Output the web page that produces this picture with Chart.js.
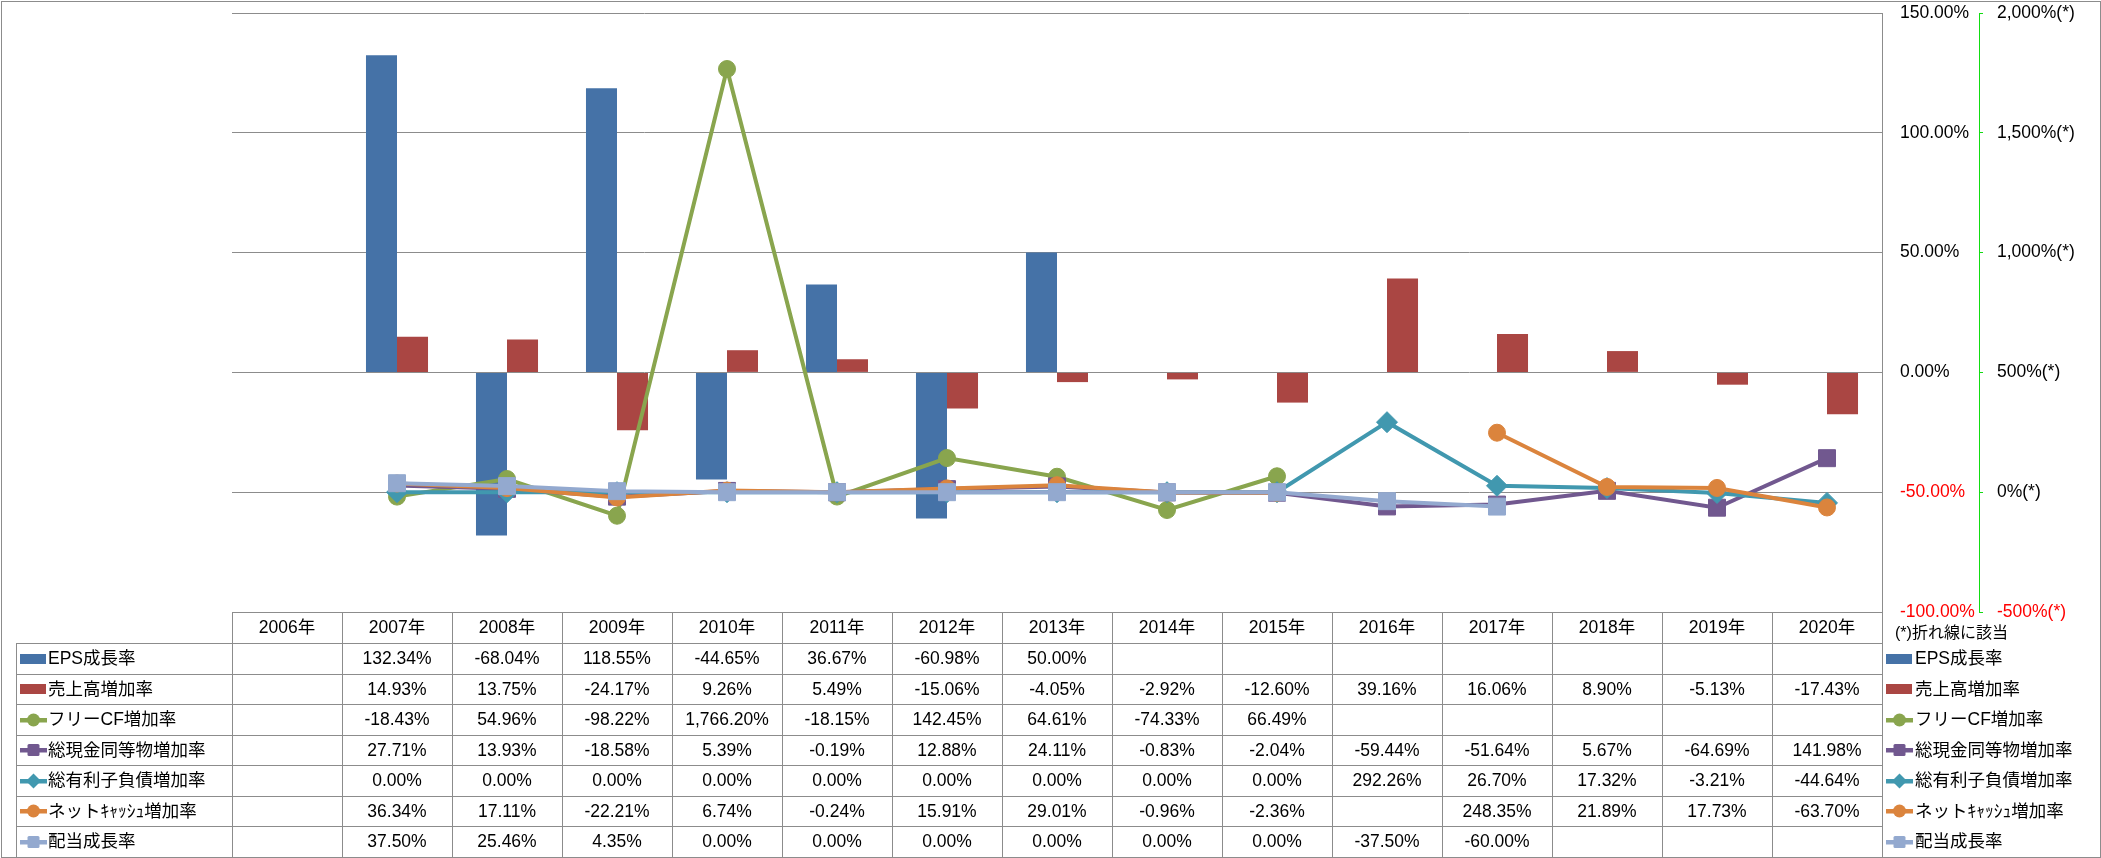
<!DOCTYPE html>
<html><head><meta charset="utf-8">
<script src="https://cdn.jsdelivr.net/npm/chart.js@4.4.1/dist/chart.umd.min.js"></script>
<style>
html,body{margin:0;padding:0;background:#fff;}
#wrap{position:relative;width:2101px;height:858px;overflow:hidden;font-family:'Liberation Sans','Noto Sans CJK JP',sans-serif;font-size:17.5px;color:#000;}
#cw{position:absolute;left:0;top:0;width:2101px;height:858px;}
.ln{position:absolute;background:#8c8c8c;}
.tx{position:absolute;white-space:nowrap;}
.sw{position:absolute;}
</style></head><body>
<div id="wrap"><div id="cw"><canvas id="cv"></canvas></div><div id="tbl"></div></div>
<script>
// ---- data ----
const years = ['2006年','2007年','2008年','2009年','2010年','2011年','2012年','2013年','2014年','2015年','2016年','2017年','2018年','2019年','2020年'];
const epsGrowth   = [null,132.34,-68.04,118.55,-44.65,36.67,-60.98,50.00,null,null,null,null,null,null,null];
const salesGrowth = [null,14.93,13.75,-24.17,9.26,5.49,-15.06,-4.05,-2.92,-12.60,39.16,16.06,8.90,-5.13,-17.43];
const freeCfGrowth= [null,-18.43,54.96,-98.22,1766.20,-18.15,142.45,64.61,-74.33,66.49,null,null,null,null,null];
const cashGrowth  = [null,27.71,13.93,-18.58,5.39,-0.19,12.88,24.11,-0.83,-2.04,-59.44,-51.64,5.67,-64.69,141.98];
const debtGrowth  = [null,0,0,0,0,0,0,0,0,0,292.26,26.70,17.32,-3.21,-44.64];
const netCashGrowth=[null,36.34,17.11,-22.21,6.74,-0.24,15.91,29.01,-0.96,-2.36,null,248.35,21.89,17.73,-63.70];
const dividendGrowth=[null,37.50,25.46,4.35,0,0,0,0,0,0,-37.50,-60.00,null,null,null];
const barAxisTicks  = [-100,-50,0,50,100,150];
const lineAxisTicks = [-500,0,500,1000,1500,2000];
const seriesNames = ['EPS成長率','売上高増加率','フリーCF増加率','総現金同等物増加率','総有利子負債増加率','ネットｷｬｯｼｭ増加率','配当成長率'];
const noteText = '(*)折れ線に該当';

// ---- styles ----
const C = {eps:'#4572A7', sales:'#AA4643', fcf:'#89A54E', cash:'#71588F', debt:'#4198AF', net:'#DB843D', div:'#93A9CF'};
const GRID = '#8c8c8c';
const FONT = "'Liberation Sans','Noto Sans CJK JP',sans-serif";

function fmtPct(v){
  if (v === null || v === undefined) return '';
  const neg = v < 0; let s = Math.abs(v).toFixed(2);
  let [i, d] = s.split('.');
  i = i.replace(/\B(?=(\d{3})+(?!\d))/g, ',');
  return (neg ? '-' : '') + i + '.' + d + '%';
}
function fmtInt(v){
  const neg = v < 0; let i = String(Math.abs(v)).replace(/\B(?=(\d{3})+(?!\d))/g, ',');
  return (neg ? '-' : '') + i;
}

Chart.defaults.font.family = FONT;
Chart.defaults.font.size = 17.5;
Chart.defaults.color = '#000';

function lineDs(label, data, color, style, radius, order){
  return {type:'line', label, data, borderColor:color, backgroundColor:color, borderWidth:4,
    pointStyle:style, pointRadius:radius, pointBorderWidth:1, pointBorderColor:color, pointBackgroundColor:color,
    yAxisID:'y2', order, tension:0, spanGaps:false};
}
function fitY(width){
  return (s) => { s.width = width; s.paddingTop = 0; s.paddingBottom = 0; };
}

new Chart(document.getElementById('cv'), {
  type:'bar',
  data:{
    labels: years,
    datasets:[
      {type:'bar', label:seriesNames[0], data:epsGrowth, backgroundColor:C.eps, yAxisID:'y', order:9, barPercentage:1, categoryPercentage:0.564},
      {type:'bar', label:seriesNames[1], data:salesGrowth, backgroundColor:C.sales, yAxisID:'y', order:10, barPercentage:1, categoryPercentage:0.564},
      lineDs(seriesNames[2], freeCfGrowth, C.fcf, 'circle', 8.5, 5),
      lineDs(seriesNames[3], cashGrowth, C.cash, 'rect', 12, 4),
      lineDs(seriesNames[4], debtGrowth, C.debt, 'rectRot', 10.5, 3),
      lineDs(seriesNames[5], netCashGrowth, C.net, 'circle', 8.5, 2),
      lineDs(seriesNames[6], dividendGrowth, C.div, 'rect', 12, 1)
    ]
  },
  options:{
    responsive:true, maintainAspectRatio:false, animation:false, events:[],
    layout:{padding:{left:232, top:13, right:0, bottom:246}},
    plugins:{legend:{display:false}, tooltip:{enabled:false}},
    scales:{
      x:{display:false, offset:true},
      y:{position:'right', min:-100, max:150,
        afterBuildTicks:(s)=>{ s.ticks = barAxisTicks.map(v=>({value:v})); },
        afterFit: fitY(97),
        grid:{color:GRID, lineWidth:1, drawTicks:false},
        border:{color:GRID, width:1},
        ticks:{padding:18, color:(c)=> c.tick.value < 0 ? '#ff0000' : '#000', callback:(v)=> Number(v).toFixed(2) + '%'}
      },
      y2:{position:'right', min:-500, max:2000,
        afterBuildTicks:(s)=>{ s.ticks = lineAxisTicks.map(v=>({value:v})); },
        afterFit: fitY(122),
        grid:{drawOnChartArea:false, drawTicks:true, tickLength:4, color:'#11dd11', lineWidth:1},
        border:{color:'#11dd11', width:1, dash:[4,3]},
        ticks:{padding:14, color:(c)=> c.tick.value < 0 ? '#ff0000' : '#000', callback:(v)=> fmtInt(v) + '%(*)'}
      }
    }
  }
});

// ---- data table (HTML overlay) ----
const tbl = document.getElementById('tbl');
const colLeft = 232, colW = 110, nCols = years.length, labelLeft = 16;
const tableRight = colLeft + colW * nCols;
const rowY = [612, 643];
for (let k = 1; k <= 7; k++) rowY.push(Math.round(643 + k * 214 / 7));

function el(cls, css, html){ const d = document.createElement('div'); d.className = cls; d.style.cssText = css; if (html !== undefined) d.innerHTML = html; tbl.appendChild(d); return d; }
function hline(x1, x2, y){ el('ln', `left:${x1}px;top:${y}px;width:${x2-x1+1}px;height:1px;`); }
function vline(x, y1, y2){ el('ln', `left:${x}px;top:${y1}px;width:1px;height:${y2-y1+1}px;`); }

// outer frame
el('', `position:absolute;left:1px;top:1px;width:2100px;height:857px;box-sizing:border-box;border:1px solid ${GRID};`);

hline(colLeft, tableRight, rowY[0]);
for (let r = 1; r < rowY.length; r++) hline(labelLeft, tableRight, rowY[r]);
vline(labelLeft, rowY[1], rowY[8]);
for (let i = 0; i <= nCols; i++) vline(colLeft + i * colW, rowY[0], rowY[8]);

// header
years.forEach((y, i) => {
  const h = rowY[1] - rowY[0];
  el('tx', `left:${colLeft+i*colW}px;top:${rowY[0]}px;width:${colW}px;height:${h}px;line-height:${h}px;text-align:center;`, y);
});
el('tx', `left:1895px;top:${rowY[0]+6}px;height:30px;line-height:30px;font-size:16px;`, noteText);

const tableRows = [
  {data:epsGrowth, color:C.eps, kind:'bar'},
  {data:salesGrowth, color:C.sales, kind:'bar'},
  {data:freeCfGrowth, color:C.fcf, kind:'circle'},
  {data:cashGrowth, color:C.cash, kind:'square'},
  {data:debtGrowth, color:C.debt, kind:'diamond'},
  {data:netCashGrowth, color:C.net, kind:'circle'},
  {data:dividendGrowth, color:C.div, kind:'square'}
];
function swatchSvg(kind, color){
  let s = `<svg width="28" height="16" viewBox="0 0 28 16" xmlns="http://www.w3.org/2000/svg">`;
  if (kind === 'bar') s += `<rect x="0" y="3" width="26" height="10" fill="${color}"/>`;
  else {
    s += `<rect x="0" y="6" width="27" height="4.5" fill="${color}"/>`;
    if (kind === 'circle') s += `<circle cx="13.5" cy="8" r="6.5" fill="${color}"/>`;
    if (kind === 'square') s += `<rect x="7.5" y="2" width="12" height="12" rx="1.5" fill="${color}"/>`;
    if (kind === 'diamond') s += `<polygon points="13.5,0.5 21,8 13.5,15.5 6,8" fill="${color}"/>`;
  }
  return s + '</svg>';
}
tableRows.forEach((row, r) => {
  const top = rowY[r+1], h = rowY[r+2] - rowY[r+1], cy = top + h / 2;
  el('sw', `left:20px;top:${cy-8}px;width:28px;height:16px;`, swatchSvg(row.kind, row.color));
  el('tx', `left:48px;top:${top}px;height:${h}px;line-height:${h}px;`, seriesNames[r]);
  el('sw', `left:1886px;top:${cy-8}px;width:28px;height:16px;`, swatchSvg(row.kind, row.color));
  el('tx', `left:1915px;top:${top}px;height:${h}px;line-height:${h}px;`, seriesNames[r]);
  row.data.forEach((v, i) => {
    el('tx', `left:${colLeft+i*colW}px;top:${top}px;width:${colW}px;height:${h}px;line-height:${h}px;text-align:center;`, fmtPct(v));
  });
});
</script>
</body></html>
